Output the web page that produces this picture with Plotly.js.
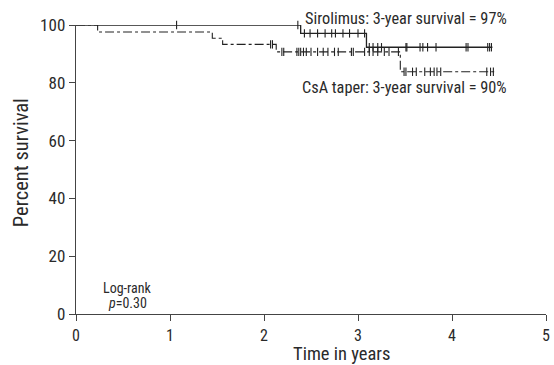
<!DOCTYPE html>
<html><head><meta charset="utf-8">
<script src="https://cdn.plot.ly/plotly-3.0.1.min.js"></script>
<style>html,body{margin:0;padding:0;background:#fff}#c{width:554px;height:365px}
text{font-stretch:condensed !important;}</style>
</head><body><div id="c"></div>
<script>
// Sirolimus step curve
const siroTimes = [0, 2.39, 3.09, 4.43];
const siroSurv  = [100, 97.1, 92.3, 92.3];
const siroCensor = [1.07, 2.36, 2.43, 2.49, 2.57, 2.65, 2.72, 2.76, 2.84, 2.91, 3.00, 3.07,
  3.12, 3.16, 3.21, 3.25, 3.51, 3.52, 3.66, 3.69, 3.74, 3.83, 4.15, 4.17, 4.38, 4.40, 4.42];
// CsA taper step curve
const csaTimes = [0, 0.23, 1.45, 1.56, 2.13, 3.45, 4.45];
const csaSurv  = [100, 97.6, 95.4, 93.3, 90.7, 83.8, 83.8];
const csaCensor = [2.07, 2.09, 2.19, 2.21, 2.35, 2.37, 2.39, 2.42, 2.45, 2.50, 2.57, 2.63, 2.68,
  2.75, 2.79, 2.93, 2.95, 3.07, 3.12, 3.16, 3.21, 3.28, 3.33, 3.43,
  3.49, 3.51, 3.58, 3.62, 3.71, 3.77, 3.81, 3.84, 3.88, 4.37, 4.41, 4.44];
const xTicks = [0, 1, 2, 3, 4, 5];
const yTicks = [0, 20, 40, 60, 80, 100];
const siroLabel = "Sirolimus: 3-year survival = 97%";
const csaLabel = "CsA taper: 3-year survival = 90%";
const xTitle = "Time in years";
const yTitle = "Percent survival";

function survAt(times, surv, t) {
  let s = surv[0];
  for (let i = 0; i < times.length; i++) { if (times[i] <= t) s = surv[i]; }
  return s;
}
const F = 'Roboto, "Liberation Sans", Arial, sans-serif';
const lc = '#222';
const tc = '#2a2a2a';
const traces = [
  {x: siroTimes, y: siroSurv, mode: 'lines', line: {shape: 'hv', color: lc, width: 1.3}, cliponaxis: false},
  {x: siroCensor, y: siroCensor.map(t => survAt(siroTimes, siroSurv, t)), mode: 'markers',
   marker: {symbol: 'line-ns', size: 6, line: {color: lc, width: 1.1}}, cliponaxis: false},
  {x: csaTimes, y: csaSurv, mode: 'lines', line: {shape: 'hv', color: lc, width: 1.1, dash: 'dashdot'}, cliponaxis: false},
  {x: csaCensor, y: csaCensor.map(t => survAt(csaTimes, csaSurv, t)), mode: 'markers',
   marker: {symbol: 'line-ns', size: 6, line: {color: lc, width: 1.1}}, cliponaxis: false}
];
const layout = {
  width: 554, height: 365,
  margin: {l: 76, r: 8, t: 25, b: 51},
  showlegend: false,
  paper_bgcolor: '#fff', plot_bgcolor: '#fff',
  font: {family: F, color: tc, size: 15},
  xaxis: {range: [0, 5], tickvals: xTicks, ticktext: xTicks.map(String), showgrid: false, zeroline: false,
    showline: true, linecolor: '#444', linewidth: 1.3, ticks: 'outside', ticklen: 6, tickcolor: '#444',
    tickfont: {size: 16, family: F, color: tc}},
  yaxis: {range: [0, 100], tickvals: yTicks, ticktext: yTicks.map(String), showgrid: false, zeroline: false,
    showline: true, linecolor: '#444', linewidth: 1.3, ticks: 'outside', ticklen: 6, tickcolor: '#444',
    tickfont: {size: 17, family: F, color: tc}},
  annotations: [
    {xref: 'x', x: 4.61, xanchor: 'right', yref: 'paper', y: 1.021, yanchor: 'middle', text: siroLabel, showarrow: false,
     font: {size: 16.3, family: F, color: tc}},
    {xref: 'x', x: 4.61, xanchor: 'right', yref: 'y', y: 78.5, yanchor: 'middle', text: csaLabel, showarrow: false,
     font: {size: 16.3, family: F, color: tc}},
    {xref: 'x', x: 0.55, yref: 'y', y: 9.0, yanchor: 'middle', text: 'Log-rank', showarrow: false, font: {size: 14, family: F, color: tc}},
    {xref: 'x', x: 0.55, yref: 'y', y: 3.8, yanchor: 'middle', text: '<i>p</i>=0.30', showarrow: false, font: {size: 14, family: F, color: tc}},
    {xref: 'paper', x: 0.564, xanchor: 'center', yref: 'paper', y: -0.137, yanchor: 'middle', text: xTitle, showarrow: false,
     borderpad: 0, font: {size: 18.5, family: F, color: tc}},
    {xref: 'paper', x: -0.117, xanchor: 'center', yref: 'paper', y: 0.522, yanchor: 'middle', textangle: -90, text: yTitle, showarrow: false,
     font: {size: 20.5, family: F, color: tc}}
  ]
};
Plotly.newPlot('c', traces, layout, {displayModeBar: false, staticPlot: true});
</script></body></html>
